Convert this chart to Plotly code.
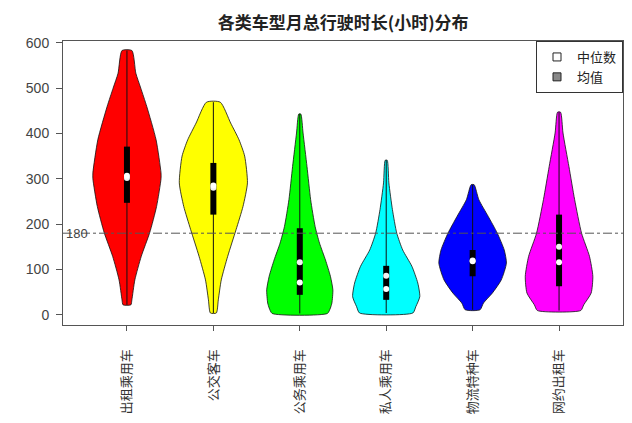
import plotly.graph_objects as go

# ---------------- data ----------------
categories = ["出租乘用车", "公交客车", "公务乘用车", "私人乘用车", "物流特种车", "网约出租车"]
fill_colors = ["#ff0000", "#ffff00", "#00ff00", "#00ffff", "#0000ff", "#ff00ff"]

# density profile: value levels (hours) and relative half-width (px read, max ~35)
red_levels = [22, 33, 77, 129, 181, 239, 300, 313, 386, 460, 500, 533, 583]
red_widths = [4, 5, 8, 14.5, 23, 30, 34.5, 34.5, 29.5, 20, 14, 9, 5]
yellow_levels = [4, 33, 77, 129, 188, 239, 291, 350, 386, 423, 469]
yellow_widths = [3, 5, 8, 14.5, 23, 30, 34.5, 31.7, 26, 17.5, 7]
green_levels = [3, 15, 26, 55, 85, 121, 158, 195, 254, 327, 401, 443]
green_widths = [28, 31, 32.5, 33.5, 31, 26, 20, 15.5, 11, 7.3, 3.3, 1]
cyan_levels = [4, 18, 40, 70, 107, 143, 180, 232, 291, 341]
cyan_widths = [27, 30, 34, 32, 26, 16.7, 10.7, 6.3, 2.7, 1]
blue_levels = [11, 26, 48, 77, 114, 143, 180, 217, 254, 287]
blue_widths = [7.5, 11, 20, 29, 34.2, 32, 25, 15.8, 6.3, 1.5]
magenta_levels = [9.5, 22, 48, 85, 129, 180, 254, 327, 401, 447]
magenta_widths = [22, 25, 32.5, 34.2, 30.8, 22.8, 15.8, 10, 4, 1.5]

q1_values = [247, 221, 44, 33, 85, 63]
q3_values = [371, 335, 191, 108, 143, 221]
median_values = [307, 285, 71, 57, 118, 116]
mean_values = [302, 280, 116, 86, 120, 150]
ref_value = 180
yticks = [0, 100, 200, 300, 400, 500, 600]

levels_all = [red_levels, yellow_levels, green_levels, cyan_levels, blue_levels, magenta_levels]
widths_all = [red_widths, yellow_widths, green_widths, cyan_widths, blue_widths, magenta_widths]

# ---------------- figure ----------------
fig = go.Figure()
HALF = 0.4  # max half-width in category units

for i, (lv, wd) in enumerate(zip(levels_all, widths_all)):
    wmax = 35.0
    xs_r = [i + HALF * w / wmax for w in wd]
    xs_l = [i - HALF * w / wmax for w in wd][::-1]
    xs = xs_r + xs_l + [xs_r[0]]
    ys = lv + lv[::-1] + [lv[0]]
    fig.add_trace(go.Scatter(
        x=xs, y=ys, mode="lines", fill="toself", fillcolor=fill_colors[i],
        line=dict(color="#111111", width=0.8, shape="spline", smoothing=0.6),
        showlegend=False, hoverinfo="skip"))
    # whisker line min-max
    fig.add_trace(go.Scatter(
        x=[i, i], y=[lv[0], lv[-1]], mode="lines",
        line=dict(color="#111111", width=1), showlegend=False, hoverinfo="skip"))

# IQR boxes
for i in range(len(categories)):
    fig.add_trace(go.Scatter(
        x=[i, i], y=[q1_values[i], q3_values[i]], mode="lines",
        line=dict(color="#000000", width=6), showlegend=False, hoverinfo="skip"))

xs_idx = list(range(len(categories)))
fig.add_trace(go.Scatter(
    x=xs_idx, y=mean_values, mode="markers",
    marker=dict(symbol="circle", size=6, color="#f2f2f2", line=dict(width=0)),
    showlegend=False, hoverinfo="skip"))
fig.add_trace(go.Scatter(
    x=xs_idx, y=median_values, mode="markers",
    marker=dict(symbol="circle", size=6, color="#ffffff", line=dict(width=0)),
    showlegend=False, hoverinfo="skip"))

# legend entries
fig.add_trace(go.Scatter(
    x=[None], y=[None], mode="markers", name="中位数",
    marker=dict(symbol="square", size=8, color="#ffffff", line=dict(color="#222222", width=1))))
fig.add_trace(go.Scatter(
    x=[None], y=[None], mode="markers", name="均值",
    marker=dict(symbol="square", size=8, color="#888888", line=dict(color="#222222", width=1))))

# reference line
fig.add_shape(type="line", xref="paper", x0=0, x1=1, yref="y", y0=ref_value, y1=ref_value,
              line=dict(color="#555555", width=1, dash="dashdot"), layer="above")
fig.add_annotation(xref="paper", x=0.0, yref="y", y=ref_value, text=str(ref_value),
                   showarrow=False, xanchor="left", yanchor="middle",
                   font=dict(size=13, color="#444444", family="Liberation Sans, Arial"),
                   xshift=1)

fig.update_layout(
    width=632, height=423,
    margin=dict(l=63, r=9, t=41, b=98),
    paper_bgcolor="white", plot_bgcolor="white",
    title=dict(text="<b>各类车型月总行驶时长(小时)分布</b>", x=0.543, xanchor="center",
               y=0.946, yanchor="middle",
               font=dict(size=17, color="#222222", family="Noto Sans CJK SC")),
    legend=dict(x=1, y=1, xanchor="right", yanchor="top", bordercolor="#333333",
                borderwidth=1, bgcolor="white",
                font=dict(size=13, color="#222222", family="Noto Sans CJK SC"),
                itemwidth=30, tracegroupgap=0),
    font=dict(family="Liberation Sans, Arial", color="#444444"),
)

fig.update_xaxes(
    range=[-0.74, 5.74], tickmode="array", tickvals=xs_idx, ticktext=categories,
    tickangle=-90, ticks="outside", ticklen=5, tickcolor="#555555",
    showline=True, linecolor="#555555", linewidth=1, mirror=True,
    showgrid=False, zeroline=False,
    tickfont=dict(size=13, color="#333333", family="Noto Sans CJK SC"),
    ticklabelstandoff=13)
fig.update_yaxes(
    range=[-22.5, 604], tickmode="array", tickvals=yticks,
    ticks="outside", ticklen=6, tickcolor="#555555",
    showline=True, linecolor="#555555", linewidth=1, mirror=True,
    showgrid=False, zeroline=False,
    tickfont=dict(size=14, color="#444444", family="Liberation Sans, Arial"),
    ticklabelstandoff=4)

fig.write_html("out.html")
